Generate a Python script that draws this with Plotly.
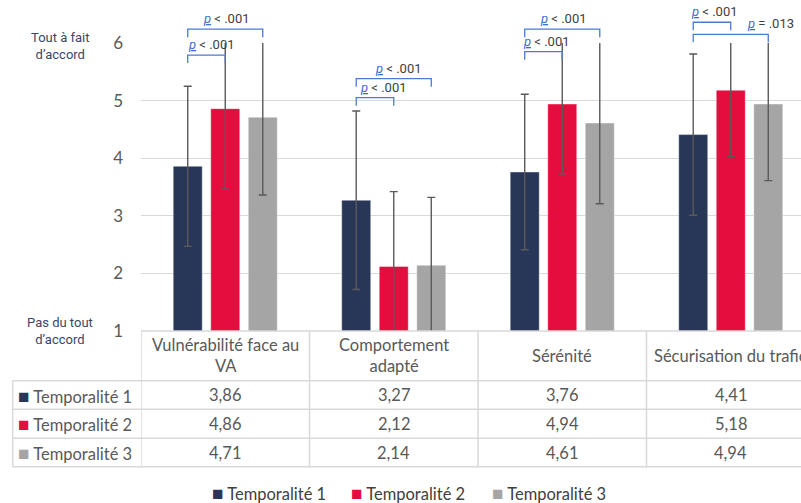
import plotly.graph_objects as go

# ---------------- data ----------------
categories = ["Vulnérabilité face au VA", "Comportement adapté", "Sérénité", "Sécurisation du trafic"]
header_labels = ["Vulnérabilité face au<br>VA", "Comportement<br>adapté", "Sérénité", "Sécurisation du trafic"]
series_names = ["Temporalité 1", "Temporalité 2", "Temporalité 3"]
t1 = [3.86, 3.27, 3.76, 4.41]
t2 = [4.86, 2.12, 4.94, 5.18]
t3 = [4.71, 2.14, 4.61, 4.94]
sd1 = [1.39, 1.55, 1.35, 1.40]
sd2 = [1.40, 1.30, 1.21, 1.15]
sd3 = [1.35, 1.18, 1.40, 1.33]
y_ticks = [1, 2, 3, 4, 5, 6]
y_top_label = "Tout à fait<br>d’accord"
y_bottom_label = "Pas du tout<br>d’accord"
# significance brackets: (category, from series, to series, level, label)
brackets = [
    (0, 0, 1, 5.79, "< .001"),
    (0, 0, 2, 6.24, "< .001"),
    (1, 0, 1, 5.05, "< .001"),
    (1, 0, 2, 5.38, "< .001"),
    (2, 0, 1, 5.85, "< .001"),
    (2, 0, 2, 6.24, "< .001"),
    (3, 0, 1, 6.36, "< .001"),
    (3, 0, 2, 6.15, "= .013"),
]
bracket_text_shift = [-2, 13, 2, 17, -4, 13, -4, 52]

# ---------------- style ----------------
colors = ["#283758", "#E40E3E", "#A5A5A5"]
FONT = "Lato, 'Open Sans', sans-serif"
NARROW = "'Liberation Sans Narrow', 'Arial Narrow', 'Roboto', sans-serif"
TXT = "#595959"
GRID = "#D9D9D9"
W, H = 801, 503
ML, MR, MT, MB = 141, 0, 43, 172
PW, PH = W - ML - MR, H - MT - MB
CATW = 168.5
XMIN = -0.5
XMAX = XMIN + PW / CATW
YMIN, YMAX = 1, 6
BARGAP = 0.332
SLOT = (1 - BARGAP) / 3


def xp(px):
    return (px - ML) / PW


def yp(py):
    return (H - MB - py) / PH


def yv(v):
    return (v - YMIN) / (YMAX - YMIN)


fig = go.Figure()
series = [t1, t2, t3]
sds = [sd1, sd2, sd3]
for k in range(3):
    fig.add_trace(go.Bar(
        x=list(range(len(categories))), y=series[k], name=series_names[k],
        marker=dict(color=colors[k], line=dict(color="rgba(255,255,255,0.5)", width=0.8)),
        error_y=dict(type="data", array=sds[k], visible=True, color="#5A5A5A",
                     thickness=1.4, width=4),
        hovertext=categories, showlegend=False,
    ))

shapes = []
annotations = []

# brackets
tick = 8 / PH
for (c, a, b, lvl, lab), sh in zip(brackets, bracket_text_shift):
    xa = c + (a - 1) * SLOT
    xb = c + (b - 1) * SLOT
    yl = yv(lvl)
    shapes.append(dict(type="path", xref="x", yref="paper",
                       path=f"M {xa},{yl - tick} L {xa},{yl} L {xb},{yl} L {xb},{yl - tick}",
                       line=dict(color="#4A7BD0", width=1.3)))
    annotations.append(dict(
        x=xa, y=yl, xref="x", yref="paper", xanchor="left", yanchor="bottom",
        xshift=sh, yshift=1, showarrow=False,
        text=f"<span style='color:#3F6FCC'><i><u>p</u></i></span> {lab}",
        font=dict(family=NARROW, size=13, color="#404040")))

# table lines
y_head_top, y_head_bot = 331, 380.7
row_lines = [409.3, 438.3, 466.7]
x_tab_left = 12.7
shapes.append(dict(type="line", xref="paper", yref="paper", x0=0, x1=xp(W), y0=yp(y_head_top), y1=yp(y_head_top),
                   line=dict(color=GRID, width=1.5)))
for yy in [y_head_bot] + row_lines:
    shapes.append(dict(type="line", xref="paper", yref="paper", x0=xp(x_tab_left), x1=xp(W), y0=yp(yy), y1=yp(yy),
                       line=dict(color=GRID, width=1.5)))
shapes.append(dict(type="line", xref="paper", yref="paper", x0=xp(x_tab_left), x1=xp(x_tab_left),
                   y0=yp(y_head_bot), y1=yp(row_lines[-1]), line=dict(color=GRID, width=1.5)))
for i in range(len(categories)):
    shapes.append(dict(type="line", xref="x", yref="paper", x0=i - 0.5, x1=i - 0.5,
                       y0=yp(y_head_top), y1=yp(row_lines[-1]), line=dict(color=GRID, width=1.5)))

# header texts
for i, lab in enumerate(header_labels):
    annotations.append(dict(x=i, y=yp((y_head_top + y_head_bot) / 2), xref="x", yref="paper",
                            text=lab, showarrow=False, xanchor="center", yanchor="middle",
                            font=dict(family=FONT, size=16.5, color=TXT)))
# rows
row_tops = [y_head_bot] + row_lines[:-1]
SQ = "<span style='color:{c};font-size:19px'>■</span> "
for k in range(3):
    yc = yp((row_tops[k] + row_lines[k]) / 2)
    annotations.append(dict(x=xp(16), y=yc, xref="paper", yref="paper", xanchor="left", yanchor="middle",
                            showarrow=False,
                            text=SQ.format(c=colors[k]) + series_names[k],
                            font=dict(family=FONT, size=16.5, color=TXT)))
    for i, v in enumerate(series[k]):
        annotations.append(dict(x=i, y=yc, xref="x", yref="paper", xanchor="center", yanchor="middle",
                                showarrow=False, text=f"{v:.2f}".replace(".", ","),
                                font=dict(family=FONT, size=16.5, color=TXT)))

# bottom legend
legend_x = [210, 349, 490]
for k in range(3):
    annotations.append(dict(x=xp(legend_x[k]), y=yp(492), xref="paper", yref="paper", xanchor="left",
                            yanchor="middle", showarrow=False,
                            text=SQ.format(c=colors[k]) + series_names[k],
                            font=dict(family=FONT, size=16.5, color="#404040")))

# y axis side labels
annotations.append(dict(x=xp(60), y=yp(46), xref="paper", yref="paper", text=y_top_label, showarrow=False,
                        xanchor="center", yanchor="middle", font=dict(family=NARROW, size=13, color="#3A4668")))
annotations.append(dict(x=xp(60), y=yp(331), xref="paper", yref="paper", text=y_bottom_label, showarrow=False,
                        xanchor="center", yanchor="middle", font=dict(family=NARROW, size=13, color="#3A4668")))

fig.update_layout(
    width=W, height=H,
    margin=dict(l=ML, r=MR, t=MT, b=MB, pad=0),
    paper_bgcolor="white", plot_bgcolor="white",
    barmode="group", bargap=BARGAP, bargroupgap=0.227,
    font=dict(family=FONT, color=TXT),
    shapes=shapes, annotations=annotations,
    showlegend=False,
    xaxis=dict(range=[XMIN, XMAX], showticklabels=False, showgrid=False, zeroline=False, showline=False,
               ticks=""),
    yaxis=dict(range=[YMIN, YMAX], tickvals=y_ticks, showgrid=True, gridcolor=GRID, gridwidth=1,
               zeroline=False, showline=False, ticks="", ticklabelstandoff=17,
               tickfont=dict(family=FONT, size=17, color=TXT)),
)

fig.write_html("out.html", config={"displayModeBar": False},
               post_script="document.body.style.margin='0px';document.body.style.overflow='hidden';")
